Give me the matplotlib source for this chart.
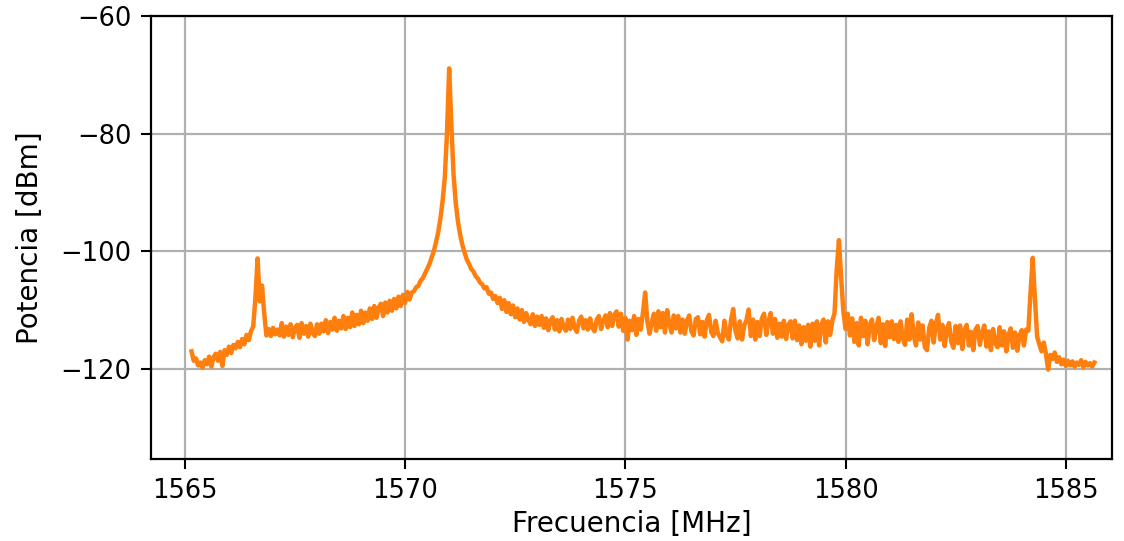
import numpy as np
import matplotlib
matplotlib.use("Agg")
import matplotlib.pyplot as plt

# Frequency sampling of the spectrum trace (MHz)
f_start = 1565.15
f_step = 0.05

# Measured power (dBm), one row per 1 MHz (20 samples each)
power = [
    # 1565.15 - 1566.10
    -117.0, -118.6, -118.2, -119.4, -118.9, -119.8, -118.5, -119.2, -117.9, -119.6,
    -118.0, -117.4, -118.6, -117.1, -119.5, -116.8, -117.6, -116.2, -117.3, -115.9,
    # 1566.15 - 1567.10
    -116.5, -115.4, -116.3, -114.9, -115.8, -114.2, -115.1, -113.6, -112.8, -108.0,
    -101.2, -108.5, -105.8, -110.5, -114.3, -113.2, -114.4, -113.0, -114.1, -113.3,
    # 1567.15 - 1568.10
    -114.3, -112.2, -114.5, -112.8, -114.2, -112.4, -114.6, -113.0, -112.5, -114.7,
    -112.2, -114.0, -112.7, -114.5, -112.3, -113.9, -114.4, -112.4, -114.0, -112.3,
    # 1568.15 - 1569.10
    -113.6, -111.7, -113.9, -112.0, -113.3, -111.3, -113.5, -111.8, -113.1, -111.0,
    -113.2, -111.3, -112.9, -110.4, -112.7, -110.8, -112.4, -110.1, -112.2, -110.4,
    # 1569.15 - 1570.10
    -111.8, -109.7, -111.5, -109.3, -111.3, -109.6, -108.9, -111.0, -108.7, -110.4,
    -108.4, -110.1, -108.1, -109.7, -107.7, -109.3, -107.4, -108.8, -106.9, -108.2,
    # 1570.15 - 1571.10
    -107.0, -106.8, -106.1, -105.9, -105.0, -104.6, -103.8, -103.0, -102.2, -101.1,
    -100.0, -98.5, -96.8, -94.5, -91.5, -87.5, -80.0, -68.9, -78.5, -87.0,
    # 1571.15 - 1572.10
    -91.8, -95.0, -97.2, -98.9, -100.2, -101.4, -102.1, -103.0, -103.4, -104.2,
    -104.6, -105.3, -105.6, -106.3, -106.1, -107.2, -107.0, -108.1, -107.6, -108.8,
    # 1572.15 - 1573.10
    -107.9, -109.8, -108.3, -110.3, -108.8, -110.7, -109.2, -111.2, -109.7, -111.6,
    -110.0, -112.0, -110.5, -111.7, -112.4, -110.7, -112.7, -111.1, -112.5, -111.0,
    # 1573.15 - 1574.10
    -113.0, -111.4, -113.4, -111.8, -111.2, -113.3, -111.7, -113.6, -111.5, -112.9,
    -113.5, -111.6, -113.2, -111.3, -113.0, -113.7, -111.8, -111.1, -113.1, -111.7,
    # 1574.15 - 1575.10
    -113.3, -111.4, -113.0, -113.6, -111.6, -111.0, -113.2, -111.8, -110.9, -112.9,
    -110.5, -112.7, -110.8, -110.2, -112.8, -110.6, -113.5, -111.3, -115.0, -111.8,
    # 1575.15 - 1576.10
    -113.4, -111.0, -114.2, -111.5, -113.3, -110.4, -107.0, -111.9, -114.0, -112.0,
    -110.6, -113.5, -110.2, -112.9, -110.5, -113.8, -110.0, -112.4, -113.8, -110.9,
    # 1576.15 - 1577.10
    -113.1, -111.0, -113.8, -111.6, -114.0, -111.8, -110.9, -113.6, -114.3, -111.5,
    -111.2, -114.1, -112.0, -114.5, -111.7, -110.8, -113.7, -114.4, -111.8, -113.9,
    # 1577.15 - 1578.10
    -114.6, -115.3, -111.8, -114.2, -115.0, -111.6, -109.8, -113.5, -114.8, -111.9,
    -115.0, -112.6, -111.7, -109.9, -114.4, -111.6, -115.0, -112.0, -114.4, -111.4,
    # 1578.15 - 1579.10
    -110.6, -114.2, -111.9, -110.5, -114.0, -111.5, -114.7, -112.3, -114.5, -111.8,
    -114.9, -112.5, -111.9, -114.8, -111.8, -115.1, -112.6, -115.8, -112.9, -115.2,
    # 1579.15 - 1580.10
    -112.5, -116.2, -112.3, -115.2, -111.9, -116.0, -112.5, -111.6, -115.5, -111.9,
    -114.2, -111.8, -110.5, -103.0, -98.1, -104.5, -110.2, -113.2, -110.6, -114.3,
    # 1580.15 - 1581.10
    -111.4, -115.4, -112.2, -116.0, -111.3, -114.4, -111.8, -115.8, -112.5, -111.6,
    -115.1, -112.8, -111.3, -115.6, -112.4, -116.1, -112.0, -114.6, -111.9, -114.9,
    # 1581.15 - 1582.10
    -112.5, -115.4, -111.9, -114.8, -115.9, -111.6, -115.0, -110.7, -114.4, -116.0,
    -112.1, -115.0, -112.6, -116.3, -116.8, -113.0, -111.8, -115.5, -112.3, -110.8,
    # 1582.15 - 1583.10
    -115.0, -112.5, -116.1, -113.2, -112.2, -115.4, -116.4, -112.7, -115.6, -112.6,
    -116.6, -113.4, -112.5, -116.0, -113.7, -116.8, -113.3, -112.7, -115.9, -113.8,
    # 1583.15 - 1584.10
    -112.6, -116.2, -113.6, -116.8, -113.2, -115.6, -116.3, -112.9, -116.0, -113.6,
    -117.0, -114.2, -113.1, -116.4, -113.8, -116.9, -114.3, -113.4, -116.0, -113.3,
    # 1584.15 - 1585.10
    -113.5, -107.0, -101.1, -108.0, -114.5, -115.8, -117.0, -115.5, -117.4, -120.1,
    -117.6, -118.3, -117.2, -118.8, -118.0, -119.2, -118.4, -119.5, -118.6, -119.4,
    # 1585.15 - 1585.65
    -118.7, -119.6, -118.9, -119.3, -118.5, -119.7, -118.8, -119.4, -119.0, -119.6,
    -118.9,
]

x_ticks = [1565, 1570, 1575, 1580, 1585]
y_ticks = [-60, -80, -100, -120]
x_label = "Frecuencia [MHz]"
y_label = "Potencia [dBm]"

power = np.array(power)
freq = f_start + f_step * np.arange(len(power))

plt.rcParams['font.family'] = ['DejaVu Sans']
fig = plt.figure(figsize=(11.24, 5.41), dpi=100)
ax = fig.add_axes([151 / 1124, 1 - 459 / 541, (1112 - 151) / 1124, (459 - 16) / 541])

ax.plot(freq, power, color='#ff7f0e', linewidth=3.2, zorder=3)

ax.set_xlim(1564.23, 1586.05)
ax.set_ylim(-135.3, -60)
ax.set_xticks(x_ticks)
ax.set_yticks(y_ticks)
ax.grid(True, color='#b0b0b0', linewidth=1.6)
ax.set_axisbelow(True)
ax.tick_params(labelsize=18.5, width=1.5, length=7, pad=7)
for s in ax.spines.values():
    s.set_linewidth(1.6)
ax.set_xlabel(x_label, fontsize=20, labelpad=4)
ax.set_ylabel(y_label, fontsize=20, labelpad=12)

fig.savefig("out.png", dpi=100)
